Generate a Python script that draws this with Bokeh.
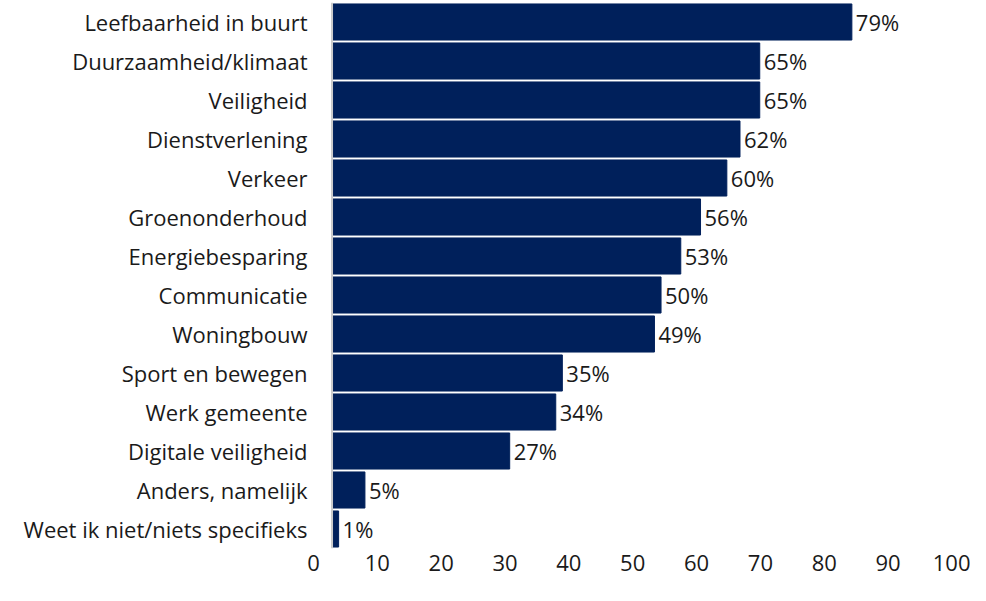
from bokeh.plotting import figure
from bokeh.models import Range1d, FactorRange, LinearAxis, FixedTicker, Span, ColumnDataSource
from bokeh.core.properties import value
from bokeh.embed import file_html
from bokeh.resources import INLINE

categories = [
    "Leefbaarheid in buurt",
    "Duurzaamheid/klimaat",
    "Veiligheid",
    "Dienstverlening",
    "Verkeer",
    "Groenonderhoud",
    "Energiebesparing",
    "Communicatie",
    "Woningbouw",
    "Sport en bewegen",
    "Werk gemeente",
    "Digitale veiligheid",
    "Anders, namelijk",
    "Weet ik niet/niets specifieks",
]
values = [79, 65, 65, 62, 60, 56, 53, 50, 49, 35, 34, 27, 5, 1]
tick_values = [0, 10, 20, 30, 40, 50, 60, 70, 80, 90, 100]

FONT = "Open Sans"
FS = "22px"
BAR = "#00205B"
TXT = "#1a1a1a"

src = ColumnDataSource(dict(
    cat=categories,
    val=values,
    lab=[f"{v}%" for v in values],
))

p = figure(
    width=970, height=585,
    y_range=FactorRange(factors=list(reversed(categories))),
    x_range=Range1d(-3.12, 97.03),
    output_backend="svg", toolbar_location=None,
    x_axis_location=None,
    min_border_top=2, min_border_bottom=37, min_border_right=0, min_border_left=311,
)
p.extra_x_ranges = {"ax": Range1d(-0.3, 102.9)}

p.hbar(y="cat", left=0, right="val", height=0.925, color=BAR, source=src)
p.text(x="val", y="cat", text="lab", source=src, x_offset=4,
       text_baseline="middle", text_align="left",
       text_font=value(FONT), text_font_size=FS, text_color=TXT)

p.add_layout(Span(location=0, dimension="height", line_color="#cccccc", line_width=2))

xa = LinearAxis(x_range_name="ax", ticker=FixedTicker(ticks=tick_values))
xa.axis_line_color = None
xa.major_tick_line_color = None
xa.major_tick_out = 0
xa.minor_tick_line_color = None
xa.major_label_text_font = FONT
xa.major_label_text_font_size = FS
xa.major_label_text_color = TXT
xa.major_label_standoff = 6
p.add_layout(xa, "below")

ya = p.yaxis[0]
ya.axis_line_color = None
ya.major_tick_line_color = None
ya.major_tick_out = 0
ya.minor_tick_line_color = None
ya.major_label_text_font = FONT
ya.major_label_text_font_size = FS
ya.major_label_text_color = TXT
ya.major_label_standoff = 4

p.xgrid.visible = False
p.ygrid.visible = False
p.outline_line_color = None

open("out.html", "w").write(file_html(p, INLINE))
